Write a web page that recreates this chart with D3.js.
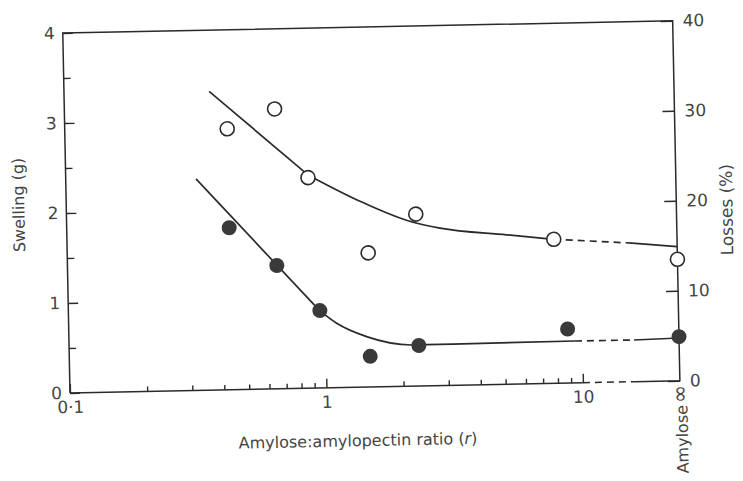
<!DOCTYPE html>
<html>
<head>
<meta charset="utf-8">
<script src="https://cdn.jsdelivr.net/npm/d3@7"></script>
<style>
  body { margin: 0; background: #fff; }
  text { font-family: "DejaVu Sans", sans-serif; font-weight: 400; fill: #454545; }
</style>
</head>
<body>
<div id="graph"></div>
<script>
// swelling, open circles, left axis (g)
var swellRatio = [0.43, 0.66, 0.88, 1.49, 2.3, 7.9]
var swellValue = [2.90, 3.11, 2.34, 1.49, 1.91, 1.60]
var swellAmylose = 1.35

// losses, filled circles, right axis (%)
var lossRatio = [0.43, 0.655, 0.956, 1.49, 2.31, 8.8]
var lossValue = [18.0, 13.7, 8.6, 3.4, 4.5, 6.0]
var lossAmylose = 4.9

// hand drawn lines: a ruled part, then a curve
var swellStraightRatio = [0.368, 0.88]
var swellStraightValue = [3.32, 2.37]
var swellCurveRatio = [0.88, 1.435, 2.24, 2.85, 5.18, 7.9]
var swellCurveValue = [2.37, 2.05, 1.82, 1.75, 1.66, 1.60]
var swellTail = [1.54, 1.49]   // at the axis break, at amylose

var lossStraightRatio = [0.322, 0.956]
var lossStraightValue = [23.5, 8.56]
var lossCurveRatio = [0.956, 1.109, 1.447, 2.20, 9.38]
var lossCurveValue = [8.56, 7.15, 5.6, 4.57, 4.65]
var lossTail = [4.63, 4.75]

var leftTicks = [0, 1, 2, 3, 4]
var leftMinor = [0.5, 1.5, 2.5, 3.5]
var rightTicks = [0, 10, 20, 30, 40]
var xMajor = [0.1, 1, 10]
var xMajorLabels = ["0\u00b71", "1", "10"]
var xMinor = [0.2, 0.3, 0.4, 0.5, 0.6, 0.7, 0.8, 0.9, 2, 3, 4, 5, 6, 7, 8, 9]

var w = 743, h = 481
var W = 610, H = 360
var xBreak = 565
var ink = "#2a2a2a"
var textInk = "#454545"

var svg = d3.select('#graph')
  .append('svg')
  .attr("width", w)
  .attr("height", h)
  .style("background", "#fff")

// the scanned figure sits slightly tilted
var g = svg.append("g")
  .attr("transform", "translate(70,393) rotate(-1.15)")

var x = d3.scaleLog().domain([0.1, 10]).range([0, 513])
var yLeft = d3.scaleLinear().domain([0, 4]).range([0, -H])
var yRight = d3.scaleLinear().domain([0, 40]).range([0, -H])

var xPos = function(r) {
  if (r === "break") return xBreak
  if (r === "amylose") return W
  return x(r)
}

// frame
var frame = g.append("g")
  .attr("fill", "none")
  .attr("stroke", ink)
  .attr("stroke-width", 1.5)
frame.append("path").attr("d", d3.line()([[0, 0], [0, -H], [W, -H], [W, 0], [xBreak, 0]]))
frame.append("path").attr("d", d3.line()([[x(10), 0], [xBreak, 0]])).attr("stroke-dasharray", "7,5")
frame.append("path").attr("d", d3.line()([[0, 0], [x(10), 0]]))

function styleAxis(sel) {
  sel.select(".domain").remove()
  sel.selectAll("line").attr("stroke", ink).attr("stroke-width", 1.4)
  sel.selectAll("text").attr("fill", textInk)
    .style("font-family", '"DejaVu Sans", sans-serif')
    .style("font-weight", 400)
}

// left axis
g.append("g")
  .call(d3.axisLeft(yLeft).tickValues(leftTicks).tickSizeInner(-10).tickSizeOuter(0).tickPadding(8).tickFormat(d3.format("d")))
  .attr("font-size", 17)
  .call(styleAxis)
g.append("g")
  .call(d3.axisLeft(yLeft).tickValues(leftMinor).tickSizeInner(-7).tickSizeOuter(0).tickFormat(""))
  .call(styleAxis)

// right axis
g.append("g")
  .attr("transform", "translate(" + W + ",0)")
  .call(d3.axisRight(yRight).tickValues(rightTicks).tickSizeInner(-12).tickSizeOuter(0).tickPadding(10).tickFormat(d3.format("d")))
  .attr("font-size", 17)
  .call(styleAxis)

// bottom axis
g.append("g")
  .call(d3.axisBottom(x).tickValues(xMajor).tickSizeInner(-9).tickSizeOuter(0).tickPadding(8)
    .tickFormat((d, i) => xMajorLabels[i]))
  .attr("font-size", 17)
  .call(styleAxis)
g.append("g")
  .call(d3.axisBottom(x).tickValues(xMinor).tickSizeInner(-5).tickSizeOuter(0).tickFormat(""))
  .call(styleAxis)

// axis titles
g.append("text")
  .attr("transform", "translate(-42," + yLeft(2.1) + ") rotate(-90)")
  .attr("text-anchor", "middle")
  .attr("font-size", 16)
  .text("Swelling (g)")

g.append("text")
  .attr("transform", "translate(" + (W + 56) + "," + yRight(18.9) + ") rotate(-90)")
  .attr("text-anchor", "middle")
  .attr("font-size", 17)
  .text("Losses (%)")

var xt = g.append("text")
  .attr("x", 287)
  .attr("y", 59)
  .attr("text-anchor", "middle")
  .attr("font-size", 16)
xt.append("tspan").text("Amylose:amylopectin ratio (")
xt.append("tspan").attr("font-style", "italic").text("r")
xt.append("tspan").text(")")

var am = g.append("text")
  .attr("transform", "translate(" + (W + 7) + ",4) rotate(-90)")
  .attr("text-anchor", "end")
  .attr("font-size", 16)
am.append("tspan").text("Amylose")
am.append("tspan").attr("font-size", 22).attr("dx", 2).text("\u221e")

// lines
var lineL = d3.line().x(d => xPos(d[0])).y(d => yLeft(d[1]))
var lineR = d3.line().x(d => xPos(d[0])).y(d => yRight(d[1]))
var zip = (a, b) => a.map((v, i) => [v, b[i]])

var swellCurve = zip(swellCurveRatio, swellCurveValue)
var lossCurve = zip(lossCurveRatio, lossCurveValue)
var swellEnd = swellCurve[swellCurve.length - 1]
var lossEnd = lossCurve[lossCurve.length - 1]

var curves = g.append("g")
  .attr("fill", "none")
  .attr("stroke", ink)
  .attr("stroke-width", 1.7)

curves.append("path").attr("d", lineL(zip(swellStraightRatio, swellStraightValue)))
curves.append("path").attr("d", lineL.curve(d3.curveMonotoneX)(swellCurve))
lineL.curve(d3.curveLinear)
curves.append("path").attr("stroke-dasharray", "7,5")
  .attr("d", lineL([swellEnd, ["break", swellTail[0]]]))
curves.append("path").attr("d", lineL([["break", swellTail[0]], ["amylose", swellTail[1]]]))

curves.append("path").attr("d", lineR(zip(lossStraightRatio, lossStraightValue)))
curves.append("path").attr("d", lineR.curve(d3.curveMonotoneX)(lossCurve))
lineR.curve(d3.curveLinear)
curves.append("path").attr("stroke-dasharray", "7,5")
  .attr("d", lineR([lossEnd, ["break", lossTail[0]]]))
curves.append("path").attr("d", lineR([["break", lossTail[0]], ["amylose", lossTail[1]]]))

// points
var swellPts = zip(swellRatio, swellValue).concat([["amylose", swellAmylose]])
var lossPts = zip(lossRatio, lossValue).concat([["amylose", lossAmylose]])

g.append("g").selectAll("circle")
  .data(swellPts)
  .enter()
  .append("circle")
  .attr("cx", d => xPos(d[0]))
  .attr("cy", d => yLeft(d[1]))
  .attr("r", 7)
  .style("fill", "#fff")
  .style("stroke", ink)
  .style("stroke-width", 1.6)

g.append("g").selectAll("circle")
  .data(lossPts)
  .enter()
  .append("circle")
  .attr("cx", d => xPos(d[0]))
  .attr("cy", d => yRight(d[1]))
  .attr("r", 7.5)
  .style("fill", "#3a3a3a")
</script>
</body>
</html>
